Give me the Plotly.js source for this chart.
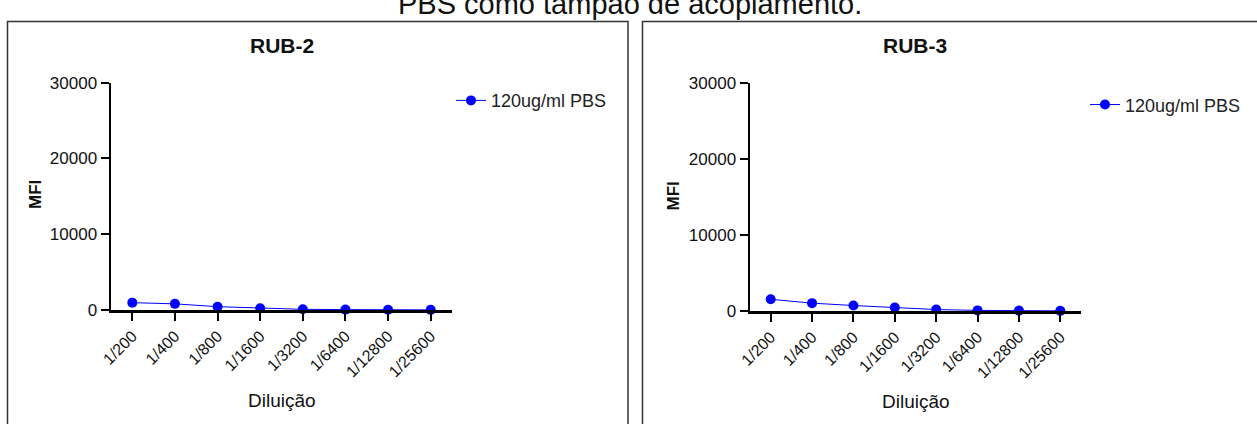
<!DOCTYPE html>
<html>
<head>
<meta charset="utf-8">
<script src="https://cdn.plot.ly/plotly-3.0.1.min.js"></script>
<style>html,body{margin:0;padding:0;background:#fff;}#chart{width:1257px;height:424px;}</style>
</head>
<body>
<div id="chart"></div>
<script>
// ---- data ----
const dilutions = ["1/200","1/400","1/800","1/1600","1/3200","1/6400","1/12800","1/25600"];
const rub2_mfi = [970, 810, 440, 220, 90, 50, 30, 20];
const rub3_mfi = [1540, 1030, 720, 450, 190, 80, 50, 20];
const seriesName = "120ug/ml PBS";
const panelTitles = ["RUB-2", "RUB-3"];
const yTicks = [0, 10000, 20000, 30000];
const yTickText = ["0", "10000", "20000", "30000"];
const xTitle = "Diluição";
const yTitle = "MFI";
const topText = "PBS como tampão de acoplamento.";

// ---- layout helpers ----
const W = 1257, H = 424;
const px = x => x / W;
const py = y => 1 - y / H;
const FONT = "Arial, 'Liberation Sans', Helvetica, sans-serif";
const BLUE = "#0000ff";

function trace(y, xa, ya, lg) {
  return {
    x: dilutions, y: y, xaxis: xa, yaxis: ya, legend: lg,
    type: "scatter", mode: "lines+markers", name: seriesName,
    line: {color: BLUE, width: 1},
    marker: {color: BLUE, size: 10},
    cliponaxis: false
  };
}

function xaxis(d0, d1, anchor) {
  return {
    domain: [px(d0), px(d1)], anchor: anchor,
    type: "category", range: [-0.5, 7.5],
    showline: true, linecolor: "#000", linewidth: 2.5,
    ticks: "outside", ticklen: 8, tickwidth: 2, tickcolor: "#000",
    tickangle: -45, showgrid: false, zeroline: false,
    tickfont: {family: FONT, size: 16, color: "#111"},
    fixedrange: true
  };
}
function yaxis(top, bottom, anchor) {
  return {
    domain: [py(bottom), py(top)], anchor: anchor,
    range: [0, 30000], tickvals: yTicks, ticktext: yTickText,
    showline: true, linecolor: "#000", linewidth: 2.5,
    ticks: "outside", ticklen: 8, tickwidth: 2, tickcolor: "#000",
    showgrid: false, zeroline: false,
    tickfont: {family: FONT, size: 17, color: "#111"},
    fixedrange: true
  };
}

function ann(text, x, y, size, bold, angle) {
  return {
    text: bold ? "<b>" + text + "</b>" : text,
    xref: "paper", yref: "paper", x: px(x), y: py(y),
    xanchor: "center", yanchor: "middle", showarrow: false,
    textangle: angle || 0,
    font: {family: FONT, size: size, color: "#111"}
  };
}

const layout = {
  width: W, height: H,
  margin: {l: 0, r: 0, t: 0, b: 0},
  paper_bgcolor: "#fff", plot_bgcolor: "rgba(0,0,0,0)",
  xaxis: xaxis(111, 452, "y"),
  yaxis: yaxis(82.7, 310, "x"),
  xaxis2: xaxis(750, 1081, "y2"),
  yaxis2: yaxis(82.7, 311, "x2"),
  legend: {x: px(451), y: py(100.7), xanchor: "left", yanchor: "middle",
           bgcolor: "rgba(0,0,0,0)", font: {family: FONT, size: 18, color: "#222"}},
  legend2: {x: px(1085), y: py(104.8), xanchor: "left", yanchor: "middle",
           bgcolor: "rgba(0,0,0,0)", font: {family: FONT, size: 18, color: "#222"}},
  annotations: [
    ann(topText, 630, 3.5, 29, false),
    ann(panelTitles[0], 282, 45.5, 21, true),
    ann(panelTitles[1], 915, 45.5, 21, true),
    ann(yTitle, 35, 195, 17, true, -90),
    ann(yTitle, 672.5, 196, 17, true, -90),
    ann(xTitle, 282, 400.5, 19, false),
    ann(xTitle, 916, 401, 19, false)
  ],
  shapes: [
    {type: "rect", xref: "paper", yref: "paper", x0: px(7.5), x1: px(628), y0: -0.1, y1: py(21.5),
     line: {color: "#333", width: 1.5}, fillcolor: "rgba(0,0,0,0)"},
    {type: "rect", xref: "paper", yref: "paper", x0: px(642.5), x1: 1.1, y0: -0.1, y1: py(21.5),
     line: {color: "#333", width: 1.5}, fillcolor: "rgba(0,0,0,0)"}
  ],
  showlegend: true
};

Plotly.newPlot("chart", [
  trace(rub2_mfi, "x", "y", "legend"),
  trace(rub3_mfi, "x2", "y2", "legend2")
], layout, {displayModeBar: false, staticPlot: true});
</script>
</body>
</html>
